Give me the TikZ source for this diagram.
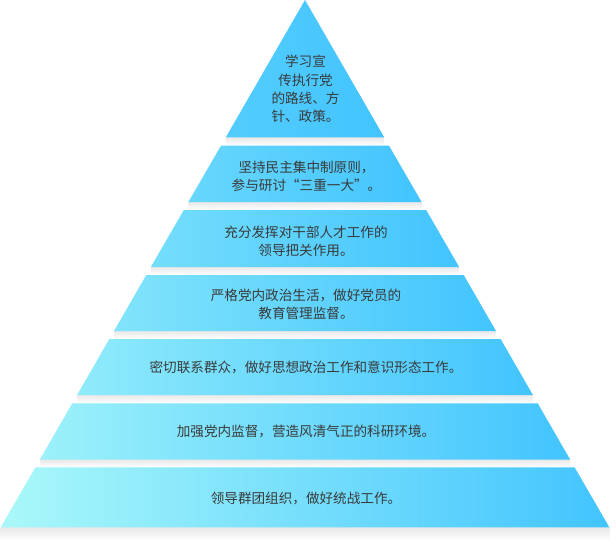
\documentclass[tikz,border=0pt]{standalone}
\usepackage{fontspec}
\setmainfont{Noto Sans CJK SC}
\definecolor{pyrL}{HTML}{ADFAF9}
\definecolor{pyrD}{HTML}{42C4FE}
\definecolor{txt}{HTML}{3A3A3A}
\begin{document}
\begin{tikzpicture}[x=1pt,y=-1pt,
  lbl/.style={text=txt,align=center,inner sep=0pt,font=\fontsize{13.6}{18.3}\selectfont},
  shadowband/.style={top color=black!9,bottom color=white,draw=none}]
\useasboundingbox (0,0) rectangle (616,541);
\fill[white] (0,0) rectangle (616,541);
% shadows
\shade[shadowband] (225.8,137.3) rectangle (384.2,145.7);
\shade[shadowband] (188.4,202) rectangle (421.6,210);
\shade[shadowband] (150.9,267) rectangle (459.1,275);
\shade[shadowband] (114,331) rectangle (496,339);
\shade[shadowband] (77.1,395) rectangle (532.9,403.3);
\shade[shadowband] (39.9,459.5) rectangle (570.1,467.3);
\shade[shadowband] (0.7,527.3) rectangle (609.3,541);
% layers
\shade[left color=pyrL!16!pyrD,right color=pyrD] (305,0) -- (384.2,137.3) -- (225.8,137.3) -- cycle;
\shade[left color=pyrL!35!pyrD,right color=pyrD] (221.0,145.7) -- (389.0,145.7) -- (421.6,202) -- (188.4,202) -- cycle;
\shade[left color=pyrL!47!pyrD,right color=pyrD] (183.8,210) -- (426.2,210) -- (459.1,267) -- (150.9,267) -- cycle;
\shade[left color=pyrL!59!pyrD,right color=pyrD] (146.3,275) -- (463.7,275) -- (496,331) -- (114,331) -- cycle;
\shade[left color=pyrL!72!pyrD,right color=pyrD] (109.4,339) -- (500.6,339) -- (532.9,395) -- (77.1,395) -- cycle;
\shade[left color=pyrL!84!pyrD,right color=pyrD] (72.3,403.3) -- (537.7,403.3) -- (570.1,459.5) -- (39.9,459.5) -- cycle;
\shade[left color=pyrL!97!pyrD,right color=pyrD] (35.4,467.3) -- (574.6,467.3) -- (609.3,527.3) -- (0.7,527.3) -- cycle;
% labels
\node[lbl] (t1) at (305.5,89.2) {学习宣\\传执行党\\的路线、方\\针、政策。};
\node[lbl] (t2) at (306.5,176) {坚持民主集中制原则，\\参与研讨“三重一大”。};
\node[lbl] (t3) at (306,241) {充分发挥对干部人才工作的\\领导把关作用。};
\node[lbl] (t4) at (306,304) {严格党内政治生活，做好党员的\\教育管理监督。};
\node[lbl] (t5) at (306,367) {密切联系群众，做好思想政治工作和意识形态工作。};
\node[lbl] (t6) at (306,431.5) {加强党内监督，营造风清气正的科研环境。};
\node[lbl] (t7) at (306,498.3) {领导群团组织，做好统战工作。};
\end{tikzpicture}
\end{document}
